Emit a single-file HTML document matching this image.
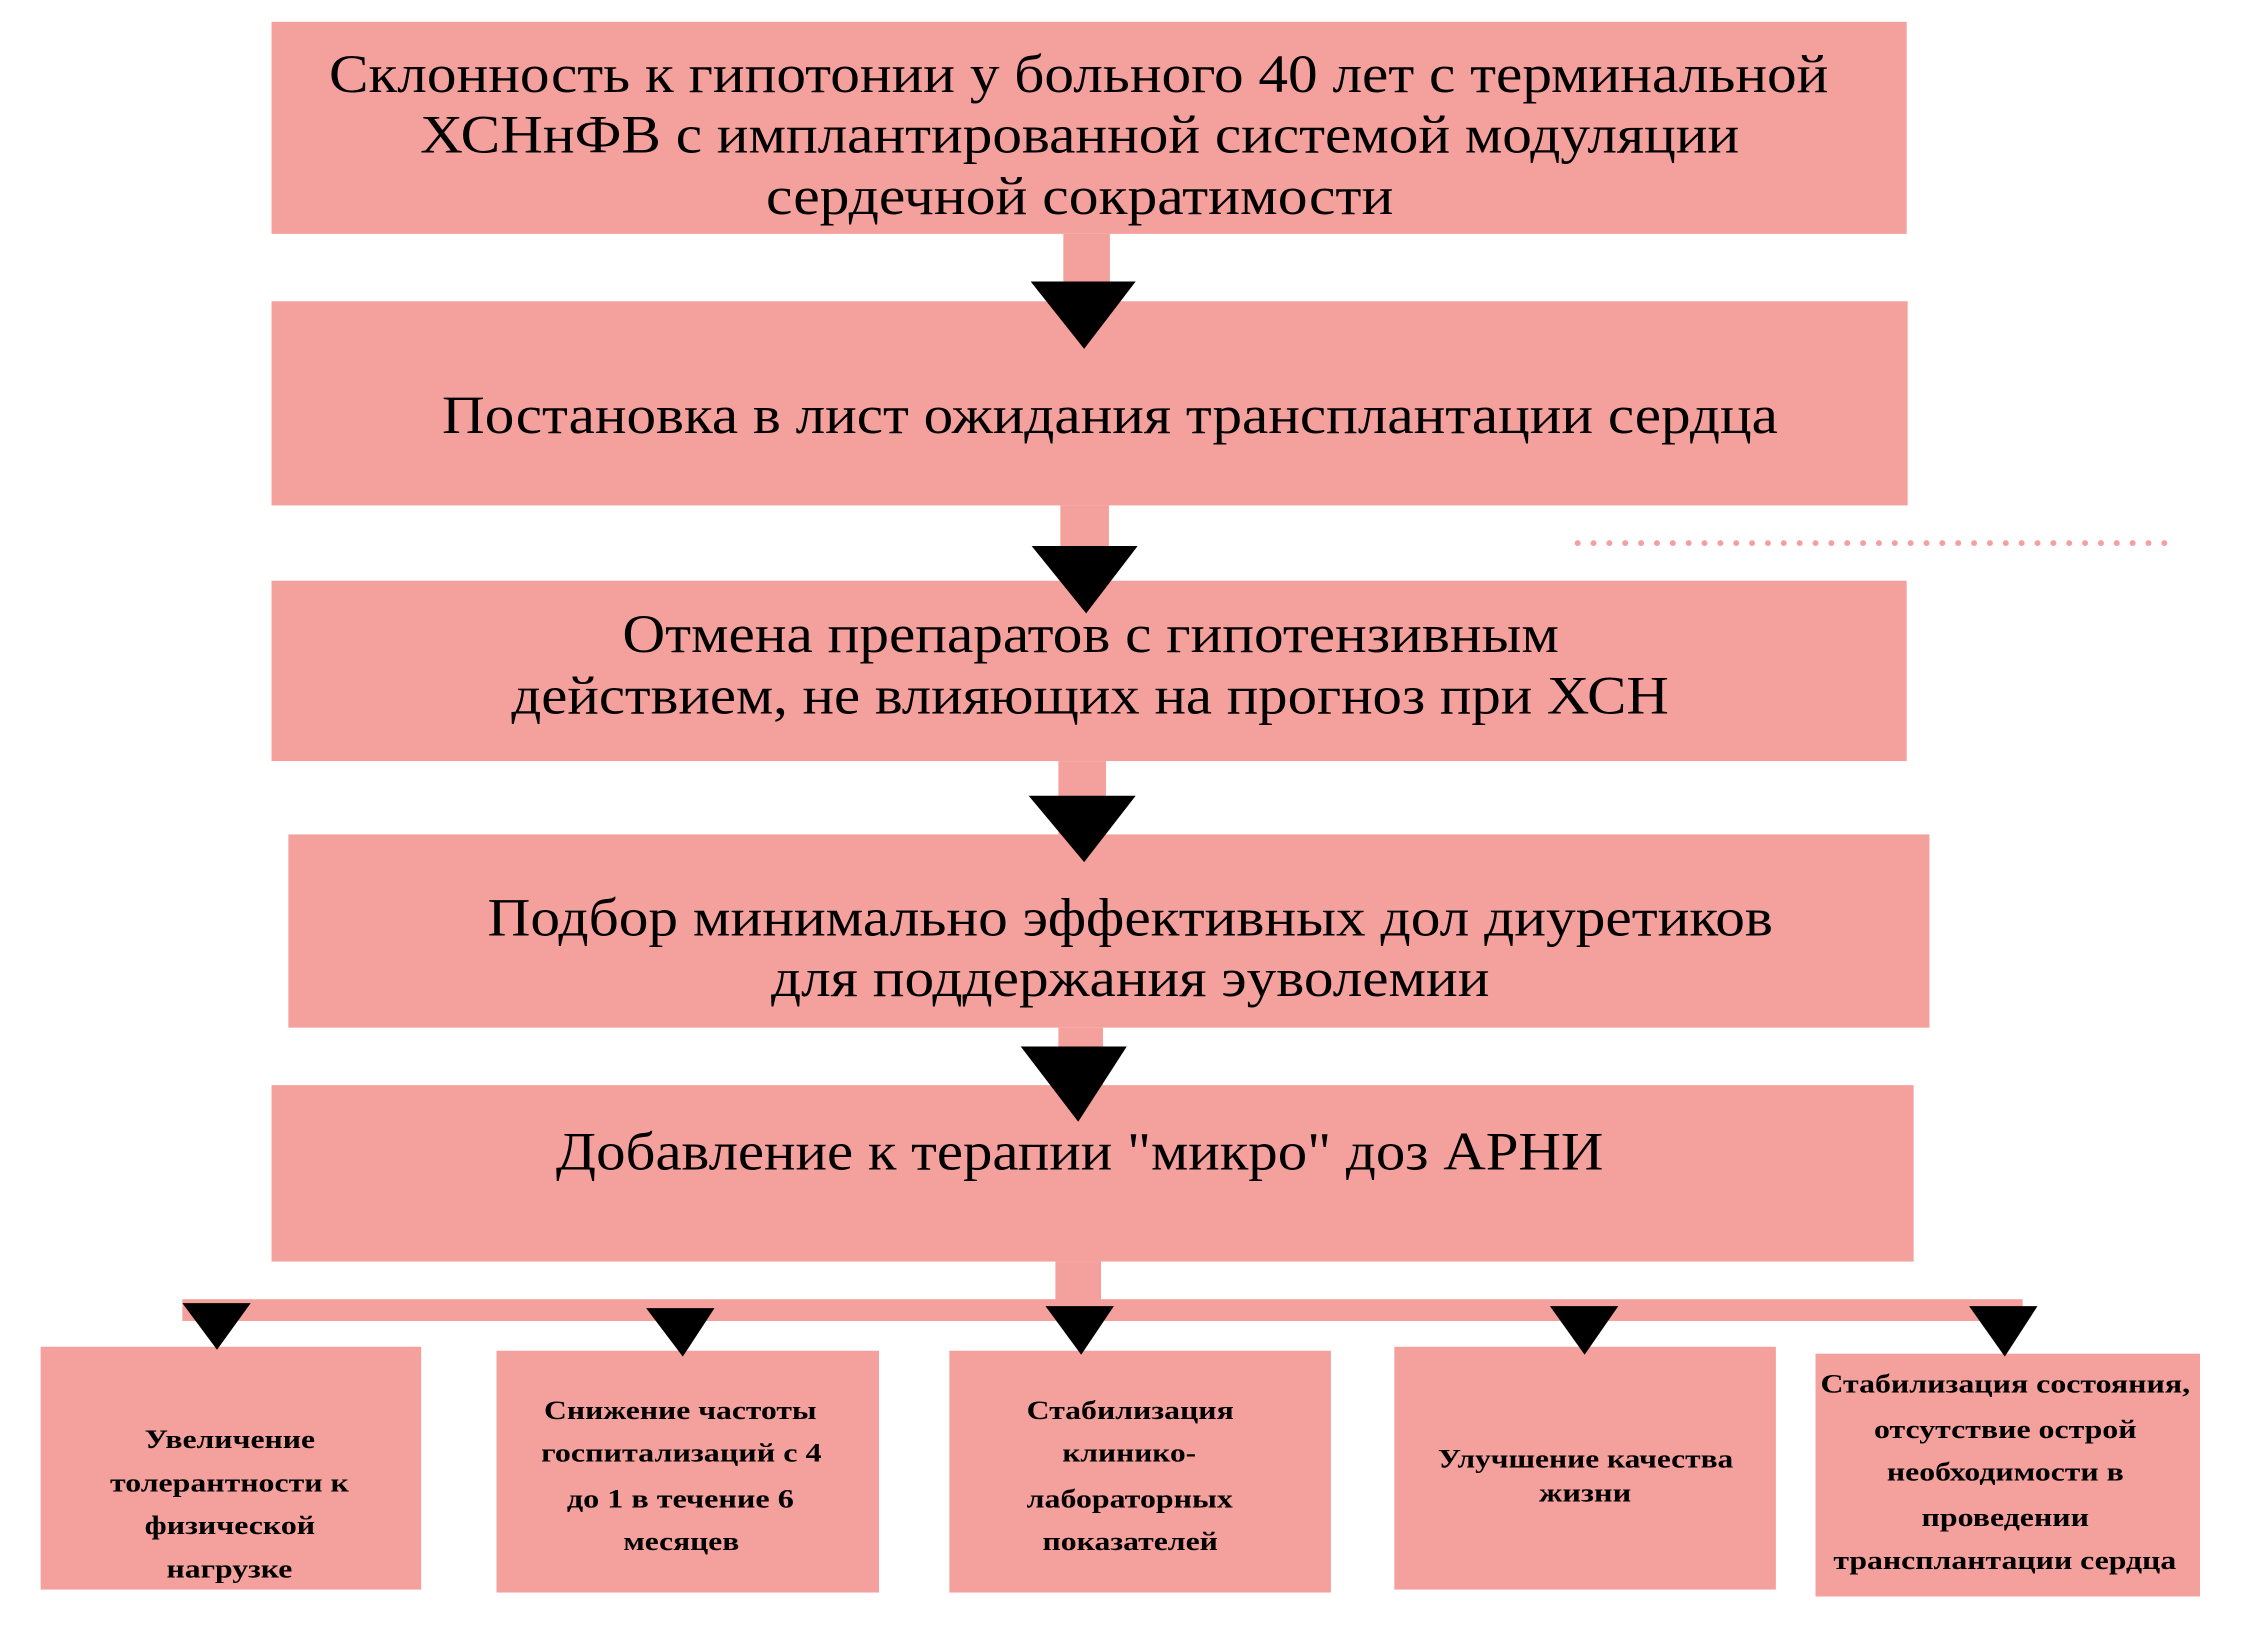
<!DOCTYPE html>
<html><head><meta charset="utf-8"><style>html,body{margin:0;padding:0;background:#fff}svg{display:block}</style></head>
<body>
<svg width="2262" height="1633" viewBox="0 0 2262 1633" xmlns="http://www.w3.org/2000/svg">
<g transform="scale(0.991)">
<g fill="#f4a19d">
<rect x="274" y="22" width="1650" height="214"/>
<rect x="1073" y="236" width="47" height="70"/>
<rect x="274" y="304" width="1651" height="206"/>
<rect x="1070" y="510" width="49" height="78"/>
<rect x="274" y="586" width="1650" height="182"/>
<rect x="1068" y="768" width="48" height="76"/>
<rect x="291" y="842" width="1656" height="195"/>
<rect x="1068" y="1037" width="45" height="60"/>
<rect x="274" y="1095" width="1657" height="178"/>
<rect x="1065" y="1273" width="46" height="45"/>
<rect x="184" y="1311" width="1857" height="22"/>
<rect x="41" y="1359" width="384" height="245"/>
<rect x="501" y="1363" width="386" height="244"/>
<rect x="958" y="1363" width="385" height="244"/>
<rect x="1407" y="1359" width="385" height="245"/>
<rect x="1832" y="1366" width="388" height="245"/>
</g>
<g fill="#f4a19d">
<circle cx="1592" cy="548" r="3"/><circle cx="1608" cy="548" r="3"/><circle cx="1624" cy="548" r="3"/><circle cx="1640" cy="548" r="3"/><circle cx="1656" cy="548" r="3"/><circle cx="1672" cy="548" r="3"/><circle cx="1688" cy="548" r="3"/><circle cx="1704" cy="548" r="3"/><circle cx="1720" cy="548" r="3"/><circle cx="1736" cy="548" r="3"/><circle cx="1752" cy="548" r="3"/><circle cx="1768" cy="548" r="3"/><circle cx="1784" cy="548" r="3"/><circle cx="1800" cy="548" r="3"/><circle cx="1816" cy="548" r="3"/><circle cx="1832" cy="548" r="3"/><circle cx="1848" cy="548" r="3"/><circle cx="1864" cy="548" r="3"/><circle cx="1880" cy="548" r="3"/><circle cx="1896" cy="548" r="3"/><circle cx="1912" cy="548" r="3"/><circle cx="1928" cy="548" r="3"/><circle cx="1944" cy="548" r="3"/><circle cx="1960" cy="548" r="3"/><circle cx="1976" cy="548" r="3"/><circle cx="1992" cy="548" r="3"/><circle cx="2008" cy="548" r="3"/><circle cx="2024" cy="548" r="3"/><circle cx="2040" cy="548" r="3"/><circle cx="2056" cy="548" r="3"/><circle cx="2072" cy="548" r="3"/><circle cx="2088" cy="548" r="3"/><circle cx="2104" cy="548" r="3"/><circle cx="2120" cy="548" r="3"/><circle cx="2136" cy="548" r="3"/><circle cx="2152" cy="548" r="3"/><circle cx="2168" cy="548" r="3"/><circle cx="2184" cy="548" r="3"/>
</g>
<g fill="#000">
<polygon points="1040,284 1146,284 1094,352"/>
<polygon points="1041,551 1148,551 1096,619"/>
<polygon points="1038,803 1146,803 1094,870"/>
<polygon points="1030,1056 1137,1056 1088,1132"/>
<polygon points="184,1315 253,1315 219,1362"/>
<polygon points="652,1320 721,1320 689,1369"/>
<polygon points="1055,1318 1124,1318 1091,1367"/>
<polygon points="1564,1318 1633,1318 1599,1367"/>
<polygon points="1987,1318 2056,1318 2023,1369"/>
</g>
<g font-family="Liberation Serif, serif" font-size="54" fill="#000">
<text x="332" y="93" textLength="1513" lengthAdjust="spacingAndGlyphs">Склонность к гипотонии у больного 40 лет с терминальной</text>
<text x="424" y="154" textLength="1331" lengthAdjust="spacingAndGlyphs">ХСНнФВ с имплантированной системой модуляции</text>
<text x="773" y="216" textLength="633" lengthAdjust="spacingAndGlyphs">сердечной сократимости</text>
<text x="446" y="437" textLength="1348" lengthAdjust="spacingAndGlyphs">Постановка в лист ожидания трансплантации сердца</text>
<text x="628" y="658" textLength="945" lengthAdjust="spacingAndGlyphs">Отмена препаратов с гипотензивным</text>
<text x="516" y="720" textLength="1168" lengthAdjust="spacingAndGlyphs">действием, не влияющих на прогноз при ХСН</text>
<text x="492" y="944" textLength="1297" lengthAdjust="spacingAndGlyphs">Подбор минимально эффективных дол диуретиков</text>
<text x="778" y="1005" textLength="725" lengthAdjust="spacingAndGlyphs">для поддержания эуволемии</text>
<text x="561" y="1180" textLength="1057" lengthAdjust="spacingAndGlyphs">Добавление к терапии "микро" доз АРНИ</text>
</g>
<g font-family="Liberation Serif, serif" font-size="27" font-weight="bold" fill="#000">
<text x="146" y="1461" textLength="172" lengthAdjust="spacingAndGlyphs">Увеличение</text>
<text x="111" y="1505" textLength="241" lengthAdjust="spacingAndGlyphs">толерантности к</text>
<text x="146" y="1548" textLength="172" lengthAdjust="spacingAndGlyphs">физической</text>
<text x="168" y="1592" textLength="127" lengthAdjust="spacingAndGlyphs">нагрузке</text>
<text x="549" y="1432" textLength="275" lengthAdjust="spacingAndGlyphs">Снижение частоты</text>
<text x="546" y="1475" textLength="283" lengthAdjust="spacingAndGlyphs">госпитализаций с 4</text>
<text x="572" y="1521" textLength="229" lengthAdjust="spacingAndGlyphs">до 1 в течение 6</text>
<text x="629" y="1564" textLength="117" lengthAdjust="spacingAndGlyphs">месяцев</text>
<text x="1036" y="1432" textLength="209" lengthAdjust="spacingAndGlyphs">Стабилизация</text>
<text x="1072" y="1475" textLength="135" lengthAdjust="spacingAndGlyphs">клинико-</text>
<text x="1036" y="1521" textLength="208" lengthAdjust="spacingAndGlyphs">лабораторных</text>
<text x="1052" y="1564" textLength="177" lengthAdjust="spacingAndGlyphs">показателей</text>
<text x="1451" y="1481" textLength="298" lengthAdjust="spacingAndGlyphs">Улучшение качества</text>
<text x="1553" y="1515" textLength="93" lengthAdjust="spacingAndGlyphs">жизни</text>
<text x="1837" y="1405" textLength="373" lengthAdjust="spacingAndGlyphs">Стабилизация состояния,</text>
<text x="1891" y="1451" textLength="265" lengthAdjust="spacingAndGlyphs">отсутствие острой</text>
<text x="1904" y="1494" textLength="239" lengthAdjust="spacingAndGlyphs">необходимости в</text>
<text x="1939" y="1540" textLength="169" lengthAdjust="spacingAndGlyphs">проведении</text>
<text x="1850" y="1583" textLength="346" lengthAdjust="spacingAndGlyphs">трансплантации сердца</text>
</g>
</g>
</svg>
</body></html>
